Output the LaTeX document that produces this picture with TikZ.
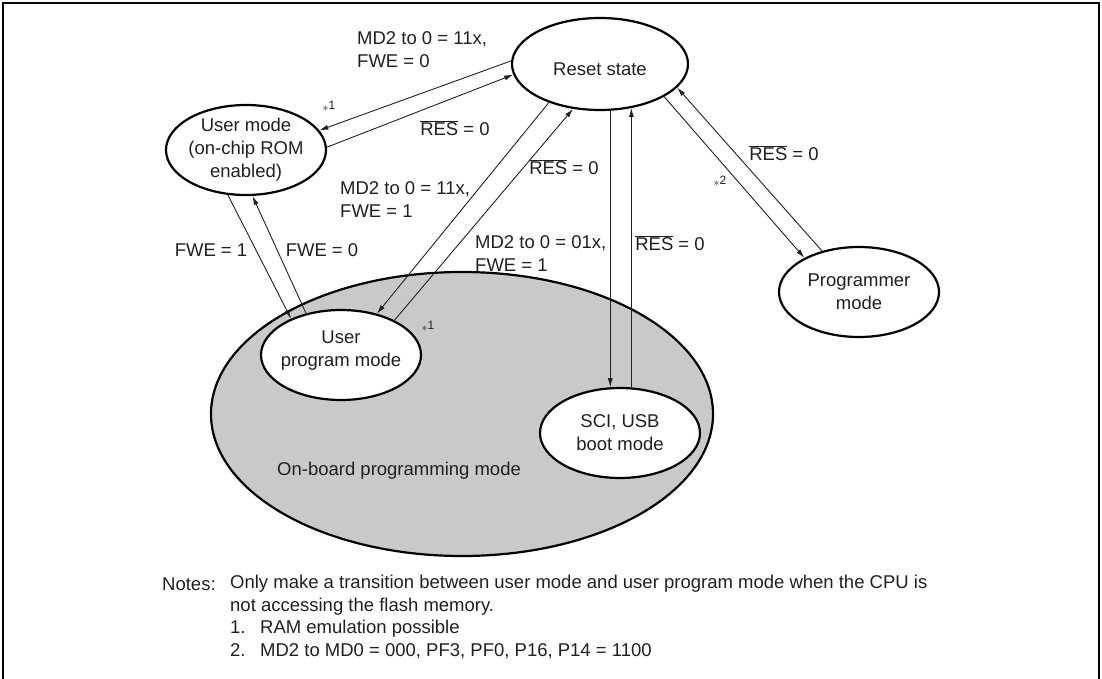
\documentclass[tikz,border=0pt]{standalone}
\usepackage{fontspec}
\setmainfont{Liberation Sans}
\usetikzlibrary{shapes.geometric,arrows.meta}
\definecolor{txt}{RGB}{35,31,32}
\definecolor{obgray}{RGB}{200,201,203}
\newcommand{\RES}{$\overline{\mbox{RES}}$}
\newcommand{\astn}[1]{{\fontsize{12}{12}\selectfont$\ast$\raisebox{2pt}{#1}}}
\begin{document}
\begin{tikzpicture}[x=1pt,y=-1pt,
  every node/.style={font=\fontsize{18.5}{23}\selectfont, text=txt},
  st/.style={ellipse, draw=black, line width=2.2pt, fill=white, minimum width=160pt, minimum height=90pt, inner sep=0pt},
  lbl/.style={align=center, inner sep=0pt},
  arr/.style={line width=0.9pt, draw=txt, -{Latex[length=9pt,width=5pt]}},
  lab/.style={align=left, inner sep=0pt, anchor=west}]
\useasboundingbox (0,0) rectangle (1102,679);
\draw[line width=2.6pt] (3,679) -- (3,3) -- (1099,3) -- (1099,679);
% on-board region
\node[ellipse, draw=black, line width=2.2pt, fill=obgray, minimum width=502pt, minimum height=284pt, inner sep=0pt] (obp) at (462,414) {};
\node[anchor=west, inner sep=0pt] (obpt) at (277,471) {On-board programming mode};
% states
\node[st, minimum width=176pt, minimum height=92pt, label={[lbl, yshift=-5pt]center:Reset state}] (rs) at (600,64) {};
\node[st, label={[lbl]center:User mode\\(on-chip ROM\\enabled)}] (um) at (246,150) {};
\node[st, label={[lbl, yshift=4pt]center:User\\program mode}] (upm) at (341,355) {};
\node[st, label={[lbl]center:SCI, USB\\boot mode}] (sci) at (620,433) {};
\node[st, label={[lbl]center:Programmer\\mode}] (pm) at (859,292) {};
% connectors
\draw[arr] (rs.178) -- (um.15);
\draw[arr] (um.2) -- (rs.187);
\draw[arr] (um.248.6) -- (upm.144);
\draw[arr] (upm.130.4) -- (um.278.5);
\draw[arr] (rs.217) -- (upm.49.3);
\draw[arr] (upm.33) -- (rs.239);
\draw[arr] (sci.102.6 |- rs.-77.7) -- (sci.102.6);
\draw[arr] (sci.76.1) -- (sci.76.1 |- rs.-54.2);
\draw[arr] (rs.-27.3) -- (pm.148);
\draw[arr] (pm.132) -- (rs.-17.3);
% labels
\node[lab] (l1) at (357,49.5) {MD2 to 0 = 11x,\\FWE = 0};
\node[inner sep=0pt] (l2) at (455,128) {\RES{} = 0};
\node[inner sep=0pt] (a1) at (329,106) {\astn{1}};
\node[lab] (l3) at (340,200) {MD2 to 0 = 11x,\\FWE = 1};
\node[inner sep=0pt] (l4) at (211,250) {FWE = 1};
\node[inner sep=0pt] (l5) at (322,250) {FWE = 0};
\node[inner sep=0pt] (l6) at (564,167) {\RES{} = 0};
\node[lab] (l7) at (475,254) {MD2 to 0 = 01x,\\FWE = 1};
\node[inner sep=0pt] (l8) at (670,243) {\RES{} = 0};
\node[inner sep=0pt] (l9) at (784,153) {\RES{} = 0};
\node[inner sep=0pt] (a2) at (720,181) {\astn{2}};
\node[inner sep=0pt] (a3) at (428,326) {\astn{1}};
% notes
\node[anchor=west, inner sep=0pt] (nl) at (162,584) {Notes:};
\node[anchor=west, inner sep=0pt] (n1) at (230,584) {Only make a transition between user mode and user program mode when the CPU is};
\node[anchor=west, inner sep=0pt] (n2) at (230,607) {not accessing the flash memory.};
\node[anchor=west, inner sep=0pt] (n3) at (230,629) {\makebox[30pt][l]{1.}RAM emulation possible};
\node[anchor=west, inner sep=0pt] (n4) at (230,651) {\makebox[30pt][l]{2.}MD2 to MD0 = 000, PF3, PF0, P16, P14 = 1100};
\end{tikzpicture}
\end{document}
